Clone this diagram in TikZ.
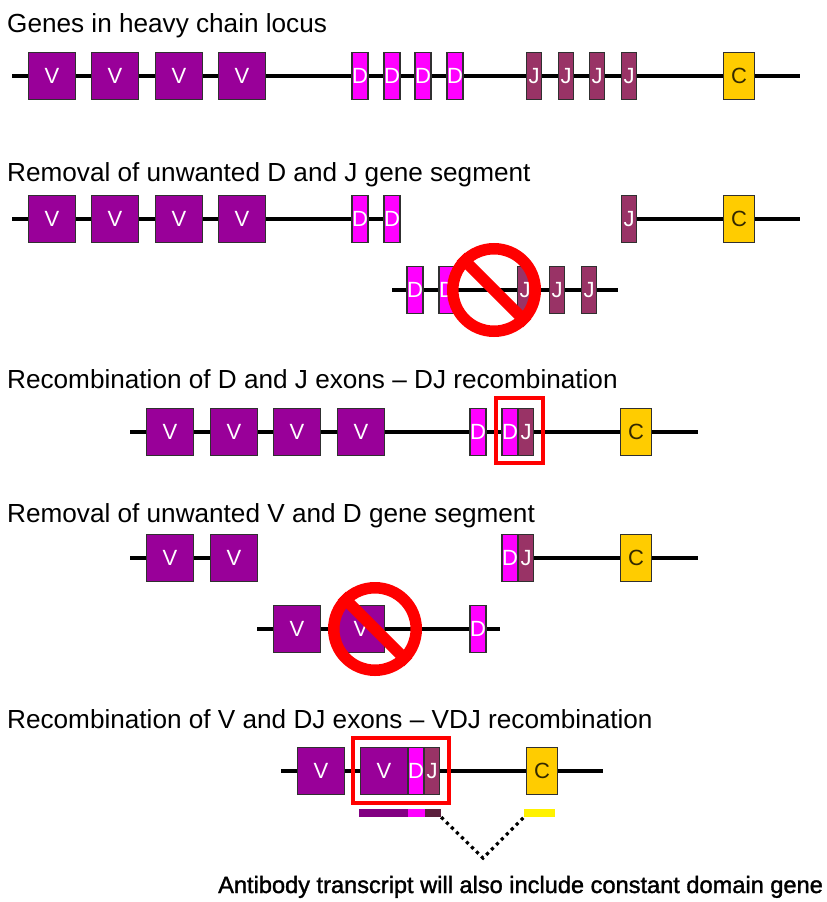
\documentclass[tikz,border=0pt]{standalone}
\usepackage{fontspec}
\setmainfont{Liberation Sans}
\newfontfamily\notefont[FakeBold=1.5]{Liberation Sans}
\definecolor{vcol}{HTML}{990099}
\definecolor{dcol}{HTML}{FF00FF}
\definecolor{jcol}{HTML}{993366}
\definecolor{ccol}{HTML}{FFCC00}
\definecolor{boxedge}{HTML}{303030}
\tikzset{
  seg/.style={draw=boxedge,line width=1.2pt,inner sep=0pt,outer sep=0pt,minimum height=47pt,font=\fontsize{22}{22}\selectfont,text=white},
  vbox/.style={seg,fill=vcol,minimum width=47pt},
  dbox/.style={seg,fill=dcol,minimum width=15.5pt},
  jbox/.style={seg,fill=jcol,minimum width=15.5pt},
  cbox/.style={seg,fill=ccol,minimum width=31pt,text=black!80!ccol},
  strand/.style={line width=3.2pt,black},
  redframe/.style={draw=red,line width=3.6pt,inner sep=0pt,fill=none},
  ring/.style={circle,draw=red,line width=11.5pt,minimum size=82.5pt,inner sep=0pt,fill=none},
  slash/.style={draw=red,line width=11.5pt},
  title/.style={anchor=base west,inner sep=0pt,font=\fontsize{26.15}{27}\selectfont},
  bar/.style={inner sep=0pt,minimum height=8pt},
  dotline/.style={line width=3.2pt,dash pattern=on 3.2pt off 3.8pt}
}
\begin{document}
\begin{tikzpicture}[x=1pt,y=-1pt]
\useasboundingbox (0,0) rectangle (827,902);
% titles
\node[title] (t1) at (7,32.7) {Genes in heavy chain locus};
\node[title] (t2) at (7,181.7) {Removal of unwanted D and J gene segment};
\node[title] (t3) at (7,388.7) {Recombination of D and J exons -- DJ recombination};
\node[title] (t4) at (7,522.7) {Removal of unwanted V and D gene segment};
\node[title] (t5) at (7,728.7) {Recombination of V and DJ exons -- VDJ recombination};
% strand ends
\coordinate (a1) at (12,76);  \coordinate (a2) at (800,76);
\coordinate (b1) at (12,219); \coordinate (b2) at (400,219);
\coordinate (b3) at (621,219);\coordinate (b4) at (800,219);
\coordinate (c1) at (392,290);\coordinate (c2) at (618,290);
\coordinate (d1) at (130,432);\coordinate (d2) at (698,432);
\coordinate (e1) at (130,558);\coordinate (e2) at (258,558);
\coordinate (e3) at (502,558);\coordinate (e4) at (698,558);
\coordinate (f1) at (257,629);\coordinate (f2) at (500,629);
\coordinate (g1) at (281,771);\coordinate (g2) at (603,771);
\draw[strand] (a1)--(a2);
\draw[strand] (b1)--(b2);
\draw[strand] (b3)--(b4);
\draw[strand] (c1)--(c2);
\draw[strand] (d1)--(d2);
\draw[strand] (e1)--(e2);
\draw[strand] (e3)--(e4);
\draw[strand] (f1)--(f2);
\draw[strand] (g1)--(g2);
% row 1
\node[vbox] (a-v1) at (52,76) {V};
\node[vbox] (a-v2) at (115,76) {V};
\node[vbox] (a-v3) at (179,76) {V};
\node[vbox] (a-v4) at (242,76) {V};
\node[dbox] (a-d1) at (360,76) {D};
\node[dbox] (a-d2) at (392,76) {D};
\node[dbox] (a-d3) at (423,76) {D};
\node[dbox] (a-d4) at (455,76) {D};
\node[jbox] (a-j1) at (534,76) {J};
\node[jbox] (a-j2) at (566,76) {J};
\node[jbox] (a-j3) at (597,76) {J};
\node[jbox] (a-j4) at (629,76) {J};
\node[cbox] (a-c) at (739,76) {C};
% row 2
\node[vbox] (b-v1) at (52,219) {V};
\node[vbox] (b-v2) at (115,219) {V};
\node[vbox] (b-v3) at (179,219) {V};
\node[vbox] (b-v4) at (242,219) {V};
\node[dbox] (b-d1) at (360,219) {D};
\node[dbox] (b-d2) at (392,219) {D};
\node[jbox] (b-j1) at (629,219) {J};
\node[cbox] (b-c) at (739,219) {C};
% excised D-J
\node[dbox] (c-d1) at (415,290) {D};
\node[dbox] (c-d2) at (447,290) {D};
\node[jbox] (c-j1) at (525,290) {J};
\node[jbox] (c-j2) at (557,290) {J};
\node[jbox] (c-j3) at (589,290) {J};
\node[ring] (r1) at (494,290) {};
\draw[slash] (r1.135) -- (r1.-45);
% row 3
\node[vbox] (d-v1) at (170,432) {V};
\node[vbox] (d-v2) at (234,432) {V};
\node[vbox] (d-v3) at (297,432) {V};
\node[vbox] (d-v4) at (361,432) {V};
\node[dbox] (d-d1) at (478,432) {D};
\node[dbox] (d-d2) at (510,432) {D};
\node[jbox] (d-j) at (526,432) {J};
\node[cbox] (d-c) at (636,432) {C};
\node[redframe,minimum width=46.5pt,minimum height=64.5pt] (d-frame) at (519.5,430.5) {};
% row 4
\node[vbox] (e-v1) at (170,558) {V};
\node[vbox] (e-v2) at (234,558) {V};
\node[dbox] (e-d) at (510,558) {D};
\node[jbox] (e-j) at (526,558) {J};
\node[cbox] (e-c) at (636,558) {C};
% excised V-D
\node[vbox] (f-v1) at (297,629) {V};
\node[vbox] (f-v2) at (361,629) {V};
\node[dbox] (f-d) at (478,629) {D};
\node[ring] (r2) at (375,629) {};
\draw[slash] (r2.135) -- (r2.-45);
% row 5
\node[vbox] (g-v1) at (321,771) {V};
\node[vbox] (g-v2) at (384,771) {V};
\node[dbox] (g-d) at (416,771) {D};
\node[jbox] (g-j) at (432,771) {J};
\node[cbox] (g-c) at (542,771) {C};
\node[redframe,minimum width=96pt,minimum height=65pt] (g-frame) at (401,770.5) {};
% transcript bars
\node[bar,fill=vcol!85!black,minimum width=49pt] (h-v) at (383.5,813) {};
\node[bar,fill=dcol,minimum width=17pt] (h-d) at (416.5,813) {};
\node[bar,fill=jcol!60!black,minimum width=16pt] (h-j) at (433,813) {};
\node[bar,fill=yellow,minimum width=31pt] (h-c) at (539.5,813) {};
\coordinate (apex) at (483,858);
\draw[dotline] (h-j.south east) -- (apex) -- (h-c.south west);
\node[anchor=base west,inner sep=0pt,font=\fontsize{23.6}{24}\notefont] (note) at (218,893) {Antibody transcript will also include constant domain gene};
\end{tikzpicture}
\end{document}
